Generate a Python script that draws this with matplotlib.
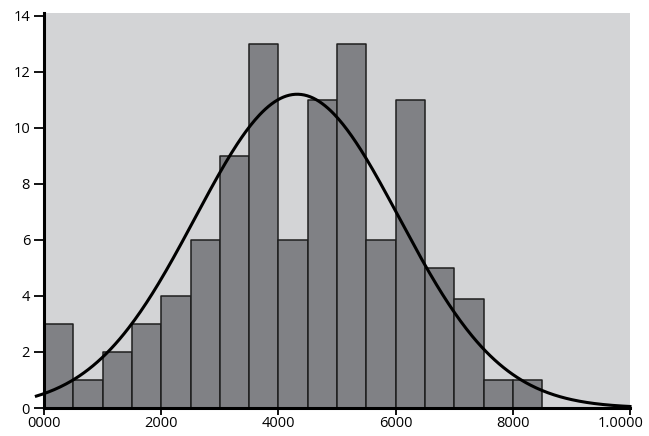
import matplotlib.pyplot as plt
import matplotlib.transforms as mtransforms
import numpy as np

# histogram bins (left edges) and counts
bin_left = [0, 500, 1000, 1500, 2000, 2500, 3000, 3500, 4000,
            4500, 5000, 5500, 6000, 6500, 7000, 7500, 8000]
counts = [3, 1, 2, 3, 4, 6, 9, 13, 6, 11, 13, 6, 11, 5, 3.9, 1, 1]
bin_width = 500

# fitted normal curve
curve_mean = 4320
curve_sd = 1740
curve_peak = 11.2

x_ticks = [0, 2000, 4000, 6000, 8000, 10000]
x_labels = ["0000", "2000", "4000", "6000", "8000", "1.0000"]
y_ticks = [0, 2, 4, 6, 8, 10, 12, 14]

plt.rcParams["font.family"] = ["Open Sans", "DejaVu Sans"]

fig = plt.figure(figsize=(6.49, 4.36), dpi=100)
ax = fig.add_axes([44 / 649, 1 - 408 / 436, (630 - 44) / 649, (408 - 13) / 436])
ax.set_facecolor("#d3d4d6")

ax.bar(bin_left, counts, width=bin_width, align="edge",
       color="#808185", edgecolor="#1e1e1e", linewidth=1.1,
       joinstyle="round", zorder=2)

xs = np.linspace(-130, 10000, 400)
ys = curve_peak * np.exp(-(xs - curve_mean) ** 2 / (2 * curve_sd ** 2))
ax.plot(xs, ys, color="black", linewidth=2.2, clip_on=False, zorder=3)

ax.set_xlim(0, 10000)
ax.set_ylim(0, 14.1)
ax.set_xticks(x_ticks)
ax.set_xticklabels(x_labels)
ax.set_yticks(y_ticks)

for side in ["top", "right"]:
    ax.spines[side].set_visible(False)
for side in ["left", "bottom"]:
    ax.spines[side].set_linewidth(2.2)
    ax.spines[side].set_zorder(4)

ax.tick_params(axis="both", labelsize=10.5, width=1.3, color="black")
ax.tick_params(axis="x", length=5, pad=0.5)
ax.tick_params(axis="y", length=7, pad=3)

# pull the last x label in so it stays inside the figure
last = ax.get_xticklabels()[-1]
last.set_transform(last.get_transform() +
                   mtransforms.ScaledTranslation(-9 / 100, 0, fig.dpi_scale_trans))

plt.savefig("out.png")
